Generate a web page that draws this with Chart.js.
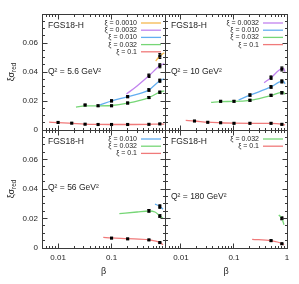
<!DOCTYPE html>
<html><head><meta charset="utf-8">
<script src="https://cdn.jsdelivr.net/npm/chart.js@4/dist/chart.umd.min.js"></script>
<style>
html,body{margin:0;padding:0;background:#fff;}
#wrap{position:relative;width:299px;height:284px;overflow:hidden;background:#fff;}
canvas{position:absolute;left:0;top:0;}
</style></head><body>
<div id="wrap">
<canvas id="c0" width="299" height="284"></canvas>
<canvas id="c1" width="299" height="284"></canvas>
<canvas id="c2" width="299" height="284"></canvas>
<canvas id="c3" width="299" height="284"></canvas>
</div>
<script>
// ================= DATA =================
const xiLabels = ['ξ = 0.0010', 'ξ = 0.0032', 'ξ = 0.010', 'ξ = 0.032', 'ξ = 0.1'];
const q2Labels = ['Q² = 5.6 GeV²', 'Q² = 10 GeV²', 'Q² = 56 GeV²', 'Q² = 180 GeV²'];
const modelLabel = 'FGS18-H';
const xTitle = 'β';
const yTitleMain = 'ξσ';
const yTitleSub = 'red';
const xTickValues = [0.01, 0.1, 1];
const xTickLabels = ['0.01', '0.1', '1'];
const yTickValues = [0, 0.02, 0.04, 0.06];
const yTickLabels = ['0', '0.02', '0.04', '0.06'];

// ---- Q2 = 5.6 GeV2 : model curves ----
const A_c0010_b = [0.67, 0.8, 0.97];
const A_c0010_v = [0.0476, 0.0510, 0.0533];
const A_c0032_b = [0.19, 0.3, 0.5, 0.8, 0.97];
const A_c0032_v = [0.0248, 0.0304, 0.0374, 0.0443, 0.0458];
const A_c010_b = [0.06, 0.1, 0.2, 0.5, 0.8, 0.97];
const A_c010_v = [0.0172, 0.0200, 0.0230, 0.0277, 0.0340, 0.0352];
const A_c032_b = [0.0216, 0.032, 0.056, 0.1, 0.2, 0.5, 0.8, 0.97];
const A_c032_v = [0.0158, 0.0167, 0.0167, 0.0169, 0.0185, 0.0224, 0.0261, 0.0270];
const A_c1_b = [0.0068, 0.01, 0.018, 0.032, 0.056, 0.1, 0.2, 0.5, 0.8, 0.97];
const A_c1_v = [0.0054, 0.0051, 0.0046, 0.0041, 0.0039, 0.0038, 0.0038, 0.0039, 0.0041, 0.0041];
// ---- Q2 = 5.6 GeV2 : data points ----
const A_d0010_b = [0.8];
const A_d0010_v = [0.0510];
const A_d0010_e = [0.0017];
const A_d0032_b = [0.5, 0.8];
const A_d0032_v = [0.0374, 0.0443];
const A_d0032_e = [0.0012, 0.0014];
const A_d010_b = [0.1, 0.2, 0.5, 0.8];
const A_d010_v = [0.0201, 0.0230, 0.0276, 0.0340];
const A_d010_e = [0.0007, 0.0007, 0.0009, 0.0011];
const A_d032_b = [0.032, 0.056, 0.1, 0.2, 0.5, 0.8];
const A_d032_v = [0.0172, 0.0167, 0.0167, 0.0186, 0.0224, 0.0260];
const A_d032_e = [0.0006, 0.0005, 0.0005, 0.0006, 0.0007, 0.0008];
const A_d1_b = [0.01, 0.018, 0.032, 0.056, 0.1, 0.2, 0.5, 0.8];
const A_d1_v = [0.0052, 0.0047, 0.0040, 0.0038, 0.0038, 0.0038, 0.0039, 0.0042];
const A_d1_e = [0.0002, 0.0002, 0.0002, 0.0002, 0.0002, 0.0002, 0.0002, 0.0003];

// ---- Q2 = 10 GeV2 : model curves ----
const B_c0032_b = [0.37, 0.5, 0.8, 0.86, 0.92];
const B_c0032_v = [0.0326, 0.0361, 0.0423, 0.0424, 0.0402];
const B_c010_b = [0.122, 0.2, 0.5, 0.8, 0.86, 0.92];
const B_c010_v = [0.0207, 0.0240, 0.0297, 0.0336, 0.0336, 0.0318];
const B_c032_b = [0.037, 0.056, 0.1, 0.2, 0.5, 0.8, 0.86, 0.92];
const B_c032_v = [0.0191, 0.0196, 0.0197, 0.0205, 0.0237, 0.0260, 0.0259, 0.0246];
const B_c1_b = [0.0123, 0.018, 0.032, 0.056, 0.1, 0.2, 0.5, 0.8, 0.92];
const B_c1_v = [0.0066, 0.0062, 0.0054, 0.0050, 0.0047, 0.0046, 0.0046, 0.0041, 0.0036];
// ---- Q2 = 10 GeV2 : data points ----
const B_d0032_b = [0.5, 0.8];
const B_d0032_v = [0.0361, 0.0421];
const B_d0032_e = [0.0012, 0.0014];
const B_d010_b = [0.2, 0.5, 0.8];
const B_d010_v = [0.0241, 0.0297, 0.0335];
const B_d010_e = [0.0008, 0.0009, 0.0011];
const B_d032_b = [0.056, 0.1, 0.2, 0.5, 0.8];
const B_d032_v = [0.0198, 0.0198, 0.0205, 0.0239, 0.0257];
const B_d032_e = [0.0005, 0.0005, 0.0006, 0.0007, 0.0008];
const B_d1_b = [0.018, 0.032, 0.056, 0.1, 0.2, 0.5, 0.8];
const B_d1_v = [0.0062, 0.0053, 0.0050, 0.0046, 0.0046, 0.0046, 0.0039];
const B_d1_e = [0.0002, 0.0002, 0.0002, 0.0002, 0.0002, 0.0002, 0.0003];

// ---- Q2 = 56 GeV2 : model curves ----
const C_c010_b = [0.65, 0.8, 0.92];
const C_c010_v = [0.0298, 0.0282, 0.0262];
const C_c032_b = [0.14, 0.3, 0.5, 0.65, 0.8, 0.92];
const C_c032_v = [0.0233, 0.0244, 0.0251, 0.0244, 0.0218, 0.0200];
const C_c1_b = [0.07, 0.1, 0.2, 0.5, 0.8, 0.92];
const C_c1_v = [0.0072, 0.0068, 0.0063, 0.0055, 0.0038, 0.0022];
// ---- Q2 = 56 GeV2 : data points ----
const C_d010_b = [0.8];
const C_d010_v = [0.0281];
const C_d010_e = [0.0012];
const C_d032_b = [0.5, 0.8];
const C_d032_v = [0.0252, 0.0217];
const C_d032_e = [0.0009, 0.0009];
const C_d1_b = [0.1, 0.2, 0.5, 0.8];
const C_d1_v = [0.0067, 0.0062, 0.0055, 0.0037];
const C_d1_e = [0.0003, 0.0003, 0.0003, 0.0003];

// ---- Q2 = 180 GeV2 : model curves ----
const D_c032_b = [0.7, 0.8, 0.875];
const D_c032_v = [0.0224, 0.0201, 0.0158];
const D_c1_b = [0.22, 0.5, 0.8, 0.88];
const D_c1_v = [0.0059, 0.0050, 0.0030, 0.0020];
// ---- Q2 = 180 GeV2 : data points ----
const D_d032_b = [0.8];
const D_d032_v = [0.0201];
const D_d032_e = [0.0010];
const D_d1_b = [0.5, 0.8];
const D_d1_v = [0.0050, 0.0029];
const D_d1_e = [0.0003, 0.0003];

// ================= STYLE / LAYOUT =================
const xiColors = ['#f5b94f', '#c183ee', '#62aef0', '#76d676', '#f07a7a'];
const FONT = "'Liberation Sans', Arial, Helvetica, sans-serif";
const INK = '#1e1e1e';
const FRAME = '#3a3a3a';
const colX = [[42, 165], [165, 287]];
const rowY = [[14, 130], [130, 248]];
const W = 299, H = 284;

const panels = [
  { id: 'c0', col: 0, row: 0, q2: q2Labels[0], q2dy: 58, series: [
    { xi: 0, cb: A_c0010_b, cv: A_c0010_v, db: A_d0010_b, dv: A_d0010_v, de: A_d0010_e },
    { xi: 1, cb: A_c0032_b, cv: A_c0032_v, db: A_d0032_b, dv: A_d0032_v, de: A_d0032_e },
    { xi: 2, cb: A_c010_b, cv: A_c010_v, db: A_d010_b, dv: A_d010_v, de: A_d010_e },
    { xi: 3, cb: A_c032_b, cv: A_c032_v, db: A_d032_b, dv: A_d032_v, de: A_d032_e },
    { xi: 4, cb: A_c1_b, cv: A_c1_v, db: A_d1_b, dv: A_d1_v, de: A_d1_e } ] },
  { id: 'c1', col: 1, row: 0, q2: q2Labels[1], q2dy: 58, series: [
    { xi: 1, cb: B_c0032_b, cv: B_c0032_v, db: B_d0032_b, dv: B_d0032_v, de: B_d0032_e },
    { xi: 2, cb: B_c010_b, cv: B_c010_v, db: B_d010_b, dv: B_d010_v, de: B_d010_e },
    { xi: 3, cb: B_c032_b, cv: B_c032_v, db: B_d032_b, dv: B_d032_v, de: B_d032_e },
    { xi: 4, cb: B_c1_b, cv: B_c1_v, db: B_d1_b, dv: B_d1_v, de: B_d1_e } ] },
  { id: 'c2', col: 0, row: 1, q2: q2Labels[2], q2dy: 58, series: [
    { xi: 2, cb: C_c010_b, cv: C_c010_v, db: C_d010_b, dv: C_d010_v, de: C_d010_e },
    { xi: 3, cb: C_c032_b, cv: C_c032_v, db: C_d032_b, dv: C_d032_v, de: C_d032_e },
    { xi: 4, cb: C_c1_b, cv: C_c1_v, db: C_d1_b, dv: C_d1_v, de: C_d1_e } ] },
  { id: 'c3', col: 1, row: 1, q2: q2Labels[3], q2dy: 67, series: [
    { xi: 3, cb: D_c032_b, cv: D_c032_v, db: D_d032_b, dv: D_d032_v, de: D_d032_e },
    { xi: 4, cb: D_c1_b, cv: D_c1_v, db: D_d1_b, dv: D_d1_v, de: D_d1_e } ] }
];

const snap = v => Math.floor(v) + 0.5;

const decorPlugin = {
  id: 'decor',
  beforeDatasetsDraw(chart) {
    const { ctx, chartArea: a, scales: { x, y } } = chart;
    ctx.save();
    ctx.beginPath(); ctx.rect(a.left, a.top, a.right - a.left, a.bottom - a.top); ctx.clip();
    ctx.strokeStyle = '#000'; ctx.lineWidth = 1;
    chart.data.datasets.forEach(d => {
      if (!d.errors) return;
      d.data.forEach((pt, i) => {
        const px = x.getPixelForValue(pt.x);
        const y1 = y.getPixelForValue(pt.y - d.errors[i]);
        const y2 = y.getPixelForValue(pt.y + d.errors[i]);
        ctx.beginPath();
        ctx.moveTo(px, y1); ctx.lineTo(px, y2);
        ctx.moveTo(px - 1.5, y1); ctx.lineTo(px + 1.5, y1);
        ctx.moveTo(px - 1.5, y2); ctx.lineTo(px + 1.5, y2);
        ctx.stroke();
      });
    });
    ctx.restore();
  },
  afterDraw(chart, args, opts) {
    const p = opts.panel;
    const { ctx, chartArea: a, scales: { x, y } } = chart;
    ctx.save();
    const L = snap(a.left), R = snap(a.right), T = snap(a.top), B = snap(a.bottom);
    // frame
    ctx.strokeStyle = FRAME; ctx.lineWidth = 1;
    ctx.strokeRect(L, T, R - L, B - T);
    // x ticks
    ctx.beginPath();
    const xmin = x.min, xmax = x.max;
    for (let k = -3; k <= 0; k++) {
      for (let m = 1; m <= 9; m++) {
        const v = m * Math.pow(10, k);
        if (v < xmin * 0.999 || v > xmax * 1.001) continue;
        const len = m === 1 ? 5 : 2.5;
        const px = snap(x.getPixelForValue(v));
        ctx.moveTo(px, B); ctx.lineTo(px, B - len);
        ctx.moveTo(px, T); ctx.lineTo(px, T + len);
      }
    }
    // y ticks
    for (let i = 0; i <= 16; i++) {
      const v = i * 0.005;
      const len = i % 4 === 0 ? 5 : 2.5;
      const py = snap(y.getPixelForValue(v));
      ctx.moveTo(L, py); ctx.lineTo(L + len, py);
      ctx.moveTo(R, py); ctx.lineTo(R - len, py);
    }
    ctx.stroke();

    // model label and Q2 label
    ctx.fillStyle = INK;
    ctx.textAlign = 'left'; ctx.textBaseline = 'middle';
    ctx.font = `8.5px ${FONT}`;
    ctx.fillText(modelLabel, a.left + 6, a.top + 11.5);
    ctx.fillText(p.q2, a.left + 6, a.top + p.q2dy);

    // legend (model curves)
    const items = chart.data.datasets.filter(d => d.isCurve);
    ctx.font = `7px ${FONT}`;
    ctx.textAlign = 'right';
    items.forEach((d, i) => {
      const yy = a.top + 9 + i * 7.2;
      ctx.fillStyle = INK;
      ctx.fillText(d.label, a.right - 28, yy);
      ctx.strokeStyle = d.borderColor; ctx.lineWidth = 1.3;
      ctx.beginPath(); ctx.moveTo(a.right - 24, yy); ctx.lineTo(a.right - 4, yy); ctx.stroke();
    });

    // y title on left panels
    if (p.col === 0) {
      const cy = (a.top + a.bottom) / 2;
      ctx.translate(11, cy); ctx.rotate(-Math.PI / 2);
      ctx.textAlign = 'left'; ctx.textBaseline = 'alphabetic'; ctx.fillStyle = INK;
      ctx.font = `9px ${FONT}`; const w1 = ctx.measureText(yTitleMain).width;
      ctx.font = `6.5px ${FONT}`; const w2 = ctx.measureText(yTitleSub).width;
      const x0 = -(w1 + w2) / 2;
      ctx.font = `9px ${FONT}`; ctx.fillText(yTitleMain, x0, 3);
      ctx.font = `6.5px ${FONT}`; ctx.fillText(yTitleSub, x0 + w1, 5);
    }
    ctx.restore();
  }
};

panels.forEach(p => {
  const [Lx, Rx] = colX[p.col];
  const [Ty, By] = rowY[p.row];
  const isLeft = p.col === 0, isBottom = p.row === 1;
  const datasets = [];
  p.series.forEach(s => {
    datasets.push({
      label: xiLabels[s.xi], isCurve: true,
      data: s.cb.map((b, i) => ({ x: b, y: s.cv[i] })),
      showLine: true, borderColor: xiColors[s.xi], backgroundColor: xiColors[s.xi],
      borderWidth: 1.3, pointRadius: 0, pointHoverRadius: 0,
      tension: 0.4, cubicInterpolationMode: 'monotone', fill: false, order: 2
    });
  });
  p.series.forEach(s => {
    datasets.push({
      label: xiLabels[s.xi] + ' data', isCurve: false, errors: s.de,
      data: s.db.map((b, i) => ({ x: b, y: s.dv[i] })),
      showLine: false, pointStyle: 'rect', pointRadius: 2.2, pointHoverRadius: 2.2,
      backgroundColor: '#000', borderColor: '#000', borderWidth: 0, order: 1
    });
  });
  new Chart(document.getElementById(p.id), {
    type: 'scatter',
    data: { datasets },
    options: {
      responsive: false, animation: false, events: [],
      layout: { padding: { left: isLeft ? 0 : Lx, right: W - Rx, top: Ty, bottom: isBottom ? 0 : H - By } },
      plugins: { legend: { display: false }, tooltip: { enabled: false }, decor: { panel: p } },
      scales: {
        x: {
          type: 'logarithmic', min: 0.005, max: 1, position: 'bottom',
          grid: { display: false, drawTicks: false }, border: { display: false },
          afterBuildTicks: sc => { sc.ticks = xTickValues.filter(v => isLeft ? v < 1 : true).map(v => ({ value: v })); },
          ticks: {
            display: isBottom, autoSkip: false, maxRotation: 0, minRotation: 0, padding: 5,
            color: INK, font: { family: FONT, size: 8 },
            callback: v => { const i = xTickValues.indexOf(v); return i >= 0 ? xTickLabels[i] : ''; }
          },
          title: { display: isBottom, text: xTitle, color: INK, font: { family: FONT, size: 9 }, padding: { top: 0, bottom: 7 } },
          afterFit: sc => { sc.height = isBottom ? H - By : 0; }
        },
        y: {
          type: 'linear', min: 0, max: 0.08, position: 'left',
          grid: { display: false, drawTicks: false }, border: { display: false },
          afterBuildTicks: sc => { sc.ticks = yTickValues.map(v => ({ value: v })); },
          ticks: {
            display: isLeft, padding: 4, color: INK, font: { family: FONT, size: 8 },
            callback: v => { const i = yTickValues.indexOf(v); return i >= 0 ? yTickLabels[i] : ''; }
          },
          afterFit: sc => { sc.width = isLeft ? Lx : 0; }
        }
      }
    },
    plugins: [decorPlugin]
  });
});
</script>
</body></html>
